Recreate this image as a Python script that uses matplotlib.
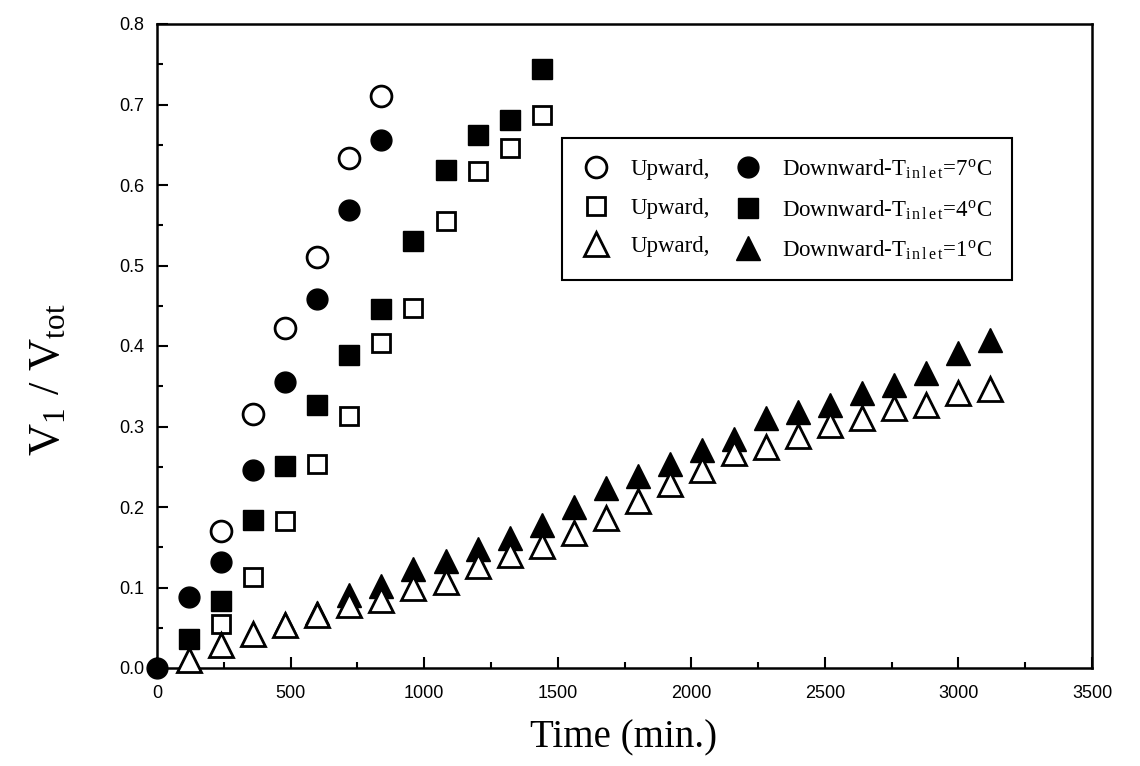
import matplotlib
matplotlib.use("Agg")
import matplotlib.pyplot as plt
from matplotlib.ticker import MultipleLocator

plt.rcParams['mathtext.fontset'] = 'stix'

# ---- data ----
up7_t = [240, 360, 480, 600, 720, 840]
up7_v = [0.170, 0.315, 0.422, 0.510, 0.633, 0.710]
dn7_t = [0, 120, 240, 360, 480, 600, 720, 840]
dn7_v = [0.0, 0.088, 0.132, 0.246, 0.355, 0.459, 0.569, 0.656]

up4_t = [240, 360, 480, 600, 720, 840, 960, 1080, 1200, 1320, 1440]
up4_v = [0.055, 0.113, 0.182, 0.253, 0.313, 0.404, 0.447, 0.555, 0.617, 0.646, 0.687]
dn4_t = [120, 240, 360, 480, 600, 720, 840, 960, 1080, 1200, 1320, 1440]
dn4_v = [0.036, 0.083, 0.184, 0.251, 0.327, 0.389, 0.446, 0.530, 0.619, 0.662, 0.681, 0.744]

up1_t = [120, 240, 360, 480, 600, 720, 840, 960, 1080, 1200, 1320, 1440, 1560,
         1680, 1800, 1920, 2040, 2160, 2280, 2400, 2520, 2640, 2760, 2880, 3000, 3120]
up1_v = [0.010, 0.029, 0.042, 0.053, 0.066, 0.078, 0.084, 0.099, 0.107, 0.127,
         0.140, 0.151, 0.168, 0.186, 0.207, 0.229, 0.246, 0.267, 0.275, 0.288,
         0.302, 0.310, 0.323, 0.327, 0.341, 0.347]
dn1_t = [120, 240, 360, 480, 600, 720, 840, 960, 1080, 1200, 1320, 1440, 1560,
         1680, 1800, 1920, 2040, 2160, 2280, 2400, 2520, 2640, 2760, 2880, 3000, 3120]
dn1_v = [0.010, 0.029, 0.042, 0.055, 0.068, 0.091, 0.102, 0.123, 0.133, 0.148,
         0.161, 0.178, 0.200, 0.224, 0.238, 0.254, 0.271, 0.285, 0.310, 0.318,
         0.327, 0.341, 0.352, 0.366, 0.391, 0.407]

x_ticks = [0, 500, 1000, 1500, 2000, 2500, 3000, 3500]
y_ticks = [0.0, 0.1, 0.2, 0.3, 0.4, 0.5, 0.6, 0.7, 0.8]

up_label = "Upward,"
inlet = "T$_{\\mathregular{i\\,n\\,l\\,e\\,t}}$"
dn_labels = ["Downward-" + inlet + "=7$^{\\mathregular{o}}$C",
             "Downward-" + inlet + "=4$^{\\mathregular{o}}$C",
             "Downward-" + inlet + "=1$^{\\mathregular{o}}$C"]

serif = ['Liberation Serif', 'DejaVu Serif']
tickfont = ['Liberation Sans Narrow', 'Liberation Sans', 'DejaVu Sans']

W, H = 1140, 766
fig = plt.figure(figsize=(W / 100, H / 100), dpi=100)
ax = fig.add_axes([157 / W, 1 - 668 / H, (1092 - 157) / W, (668 - 24) / H])

mew = 2.0
filled = dict(linestyle='none', color='black', mec='black', clip_on=False)
hollow = dict(linestyle='none', mfc='white', mec='black', mew=mew, clip_on=False)

h_d7, = ax.plot(dn7_t, dn7_v, marker='o', ms=15, zorder=3, **filled)
h_d4, = ax.plot(dn4_t, dn4_v, marker='s', ms=14, zorder=3, **filled)
h_d1, = ax.plot(dn1_t, dn1_v, marker='^', ms=17, zorder=3, **filled)
h_u7, = ax.plot(up7_t, up7_v, marker='o', ms=15, zorder=4, **hollow)
h_u4, = ax.plot(up4_t, up4_v, marker='s', ms=13, zorder=4, **hollow)
h_u1, = ax.plot(up1_t, up1_v, marker='^', ms=17, zorder=4, **hollow)

ax.set_xlim(0, 3500)
ax.set_ylim(0, 0.8)
ax.set_xticks(x_ticks)
ax.set_xticklabels([str(t) for t in x_ticks], family=tickfont, fontsize=13)
ax.set_yticks(y_ticks)
ax.set_yticklabels([f"{t:.1f}" for t in y_ticks], family=tickfont, fontsize=13)
ax.xaxis.set_minor_locator(MultipleLocator(250))
ax.yaxis.set_minor_locator(MultipleLocator(0.05))
ax.tick_params(which='both', direction='in', top=False, right=False, width=1.5)
ax.tick_params(which='major', length=8)
ax.tick_params(axis='x', which='major', pad=12)
ax.tick_params(axis='y', which='major', pad=9)
ax.tick_params(which='minor', length=4)
for s in ax.spines.values():
    s.set_linewidth(1.8)

fig.text(624 / W, 1 - 747 / H, "Time (min.)", family=serif, fontsize=28,
         ha='center', va='baseline')
fig.text(48 / W, 1 - 380 / H, "V$_{\\mathregular{1}}$ / V$_{\\mathregular{tot}}$",
         family=serif, fontsize=32, rotation=90, ha='center', va='center')

handles = [h_u7, h_u4, h_u1, h_d7, h_d4, h_d1]
labels = [up_label] * 3 + dn_labels
leg = ax.legend(handles, labels, ncol=2, loc='upper left',
                bbox_to_anchor=(0.433, 0.823), borderaxespad=0,
                prop={'family': serif, 'size': 16.5},
                frameon=True, fancybox=False, edgecolor='black', framealpha=1,
                handlelength=1.3, handletextpad=0.85, columnspacing=1.0,
                labelspacing=0.75, borderpad=0.85, numpoints=1, markerscale=1.0)
leg.get_frame().set_linewidth(1.5)

fig.savefig("out.png", dpi=100)
